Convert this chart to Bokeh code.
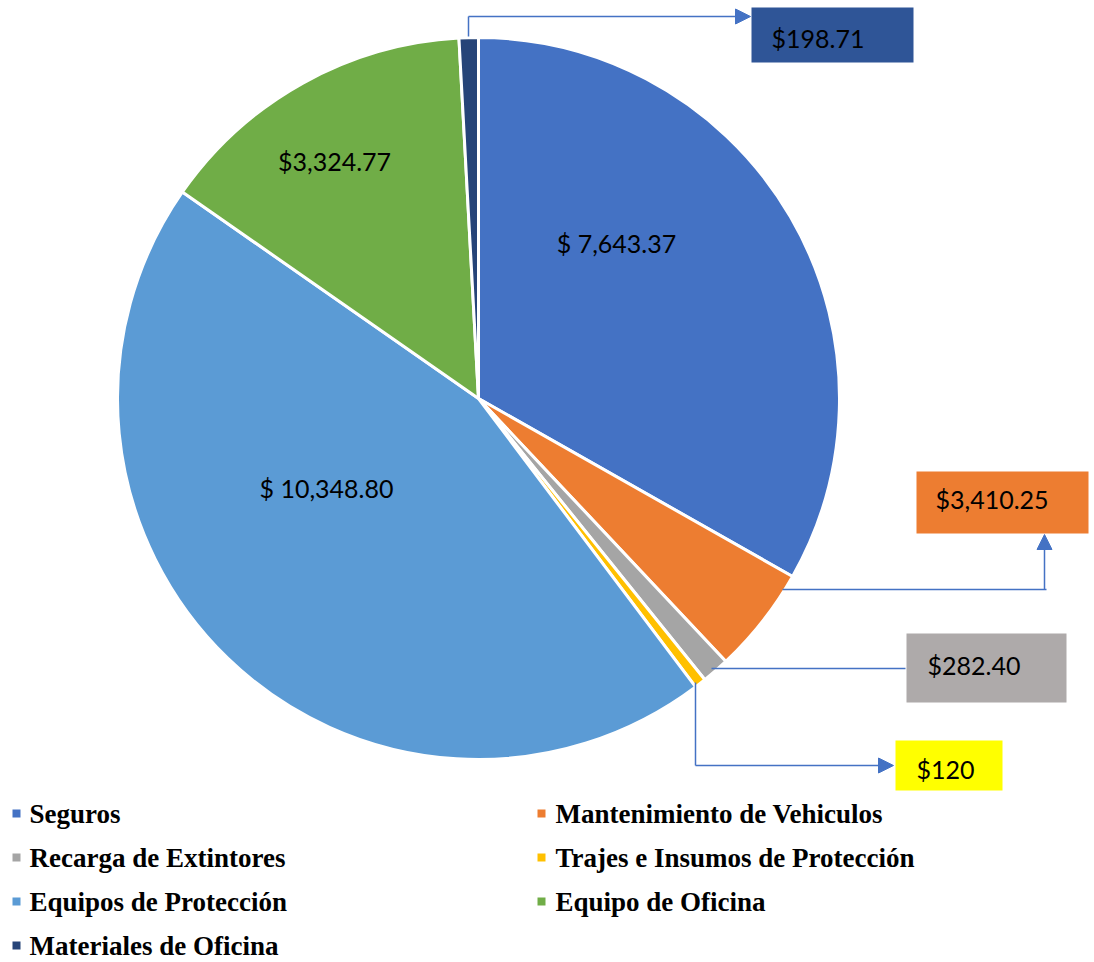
import numpy as np
from bokeh.plotting import figure
from bokeh.models import Range1d, Arrow, NormalHead
from bokeh.core.properties import value
from bokeh.embed import file_html
from bokeh.resources import INLINE

# ---------------- data ----------------
categories = ["Seguros", "Mantenimiento de Vehiculos", "Recarga de Extintores",
              "Trajes e Insumos de Protección", "Equipos de Protección",
              "Equipo de Oficina", "Materiales de Oficina"]
# slice sizes as drawn in the picture
slice_values = [7643.37, 1100.00, 282.40, 120.00, 10348.80, 3324.77, 198.71]
# label texts as printed on the chart
label_texts = ["$ 7,643.37", "$3,410.25", "$282.40", "$120",
               "$ 10,348.80", "$3,324.77", "$198.71"]
colors = ["#4472C4", "#ED7D31", "#A5A5A5", "#FFC000", "#5B9BD5", "#70AD47", "#264478"]

# ---------------- layout (image pixel coords) ----------------
W, H = 1094, 962
def X(ix): return ix
def Y(iy): return H - iy

cx, cy, R = X(478), Y(398), 361

p = figure(width=W, height=H, x_range=Range1d(0, W), y_range=Range1d(0, H),
           x_axis_type=None, y_axis_type=None, toolbar_location=None,
           output_backend="svg", min_border=0)
p.outline_line_color = None
p.grid.visible = False
p.background_fill_color = "white"

vals = np.array(slice_values)
fr = vals / vals.sum()
cum = np.concatenate([[0], np.cumsum(fr)])
starts = np.pi / 2 - 2 * np.pi * cum[:-1]
ends = np.pi / 2 - 2 * np.pi * cum[1:]

p.wedge(x=[cx] * len(vals), y=[cy] * len(vals), radius=R,
        start_angle=list(starts), end_angle=list(ends), direction="clock",
        fill_color=colors, line_color="white", line_width=3)

label_font = value("Lato")
LFS = "25px"

# inside labels (index, image x center, image y center)
inside = [(0, 616, 242), (4, 326, 487), (5, 334, 160)]
for i, ix, iy in inside:
    p.text(x=[X(ix)], y=[Y(iy)], text=[label_texts[i]], text_font=label_font,
           text_font_size=LFS, text_align="center", text_baseline="middle",
           text_color="black")

# boxed labels: index, box (x0,y0,x1,y1), text left x, text center y, fill
boxed = [(6, (751, 7, 913, 62), 771, 37, "#2F5597"),
         (1, (916, 471, 1088, 533), 935, 498, "#ED7D31"),
         (2, (906, 633, 1066, 702), 927, 664, "#AEAAAA"),
         (3, (895, 740, 1002, 790), 916, 768, "#FFFF00")]
for i, (x0, y0, x1, y1), tx, ty, fc in boxed:
    p.quad(left=[X(x0)], right=[X(x1)], top=[Y(y0)], bottom=[Y(y1)],
           fill_color=fc, line_color=None)
    p.text(x=[X(tx)], y=[Y(ty)], text=[label_texts[i]], text_font=label_font,
           text_font_size=LFS, text_align="left", text_baseline="middle",
           text_color="black")

# leader lines
LC = "#4472C4"
def poly(pts):
    p.line(x=[X(a) for a, b in pts], y=[Y(b) for a, b in pts],
           line_color=LC, line_width=1.5)
def arrow(a, b):
    p.add_layout(Arrow(end=NormalHead(size=15, fill_color=LC, line_color=LC, line_width=1),
                       x_start=X(a[0]), y_start=Y(a[1]), x_end=X(b[0]), y_end=Y(b[1]),
                       line_color=LC, line_width=1.5))

poly([(468, 36), (468, 16)])
arrow((468, 16), (750, 16))
poly([(782, 589), (1046, 589)])
arrow((1044, 589), (1044, 534))
poly([(711, 668), (905, 668)])
poly([(695, 682), (695, 765)])
arrow((695, 765), (893, 765))

# legend
leg_font = value("Liberation Serif")
for i, (cat, col) in enumerate(zip(categories, colors)):
    row, c = i // 2, i % 2
    sx = 16 if c == 0 else 541
    tx = 29 if c == 0 else 555
    mid = 813 + 44 * row
    p.rect(x=[X(sx)], y=[Y(mid)], width=8, height=8, fill_color=col, line_color=None)
    p.text(x=[X(tx)], y=[Y(mid)], text=[cat], text_font=leg_font,
           text_font_size="27px", text_font_style="bold", text_align="left",
           text_baseline="middle", text_color="black")

open("out.html", "w").write(file_html(p, INLINE))
